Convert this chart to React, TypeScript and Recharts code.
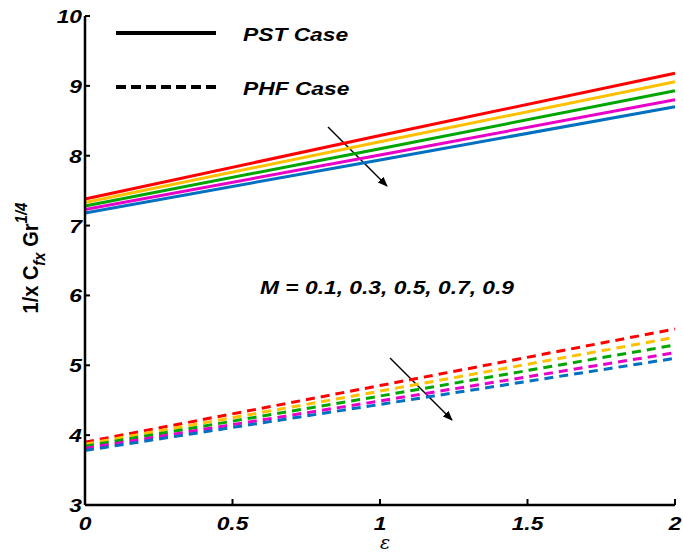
import React from "react"
import { LineChart, Line, XAxis, YAxis, Customized } from "recharts"

const eps = [0, 1, 2]
const pstM01 = [7.38, 8.29, 9.18]
const pstM03 = [7.33, 8.2, 9.06]
const pstM05 = [7.28, 8.1, 8.93]
const pstM07 = [7.23, 8.01, 8.8]
const pstM09 = [7.18, 7.94, 8.7]
const phfM01 = [3.9, 4.71, 5.52]
const phfM03 = [3.87, 4.63, 5.4]
const phfM05 = [3.84, 4.56, 5.29]
const phfM07 = [3.81, 4.49, 5.18]
const phfM09 = [3.78, 4.44, 5.1]
const xTicks = [0, 0.5, 1, 1.5, 2]
const yTicks = [3, 4, 5, 6, 7, 8, 9, 10]
const colors = ["#ff0000", "#ffc000", "#00a600", "#e800c8", "#0070c0"]

const data = eps.map((e, i) => ({
  eps: e,
  p1: pstM01[i], p3: pstM03[i], p5: pstM05[i], p7: pstM07[i], p9: pstM09[i],
  h1: phfM01[i], h3: phfM03[i], h5: phfM05[i], h7: phfM07[i], h9: phfM09[i],
}))

const FONT = "'Liberation Sans', Arial, sans-serif"

// the reference text looks stretched sideways, so scale it a bit
const Txt = ({ x, y, anchor = "start", size = 19, children }: any) => (
  <text
    transform={`translate(${x},${y}) scale(1.2,1)`}
    textAnchor={anchor}
    fontFamily={FONT}
    fontSize={size}
    fontWeight="bold"
    fontStyle="italic"
    fill="#000"
  >
    {children}
  </text>
)

const XTick = (props: any) => {
  const { x, y, payload } = props
  return (
    <g>
      <line x1={x} y1={y} x2={x} y2={y - 6} stroke="#000" strokeWidth={2} />
      <Txt x={x} y={y + 25} anchor="middle">{payload.value}</Txt>
    </g>
  )
}

const YTick = (props: any) => {
  const { x, y, payload } = props
  return (
    <g>
      <line x1={x} y1={y} x2={x + 5} y2={y} stroke="#000" strokeWidth={2} />
      <Txt x={x - 3} y={y + 7} anchor="end">{payload.value}</Txt>
    </g>
  )
}

const Extras = () => (
  <g>
    <defs>
      <marker id="arrowHead" markerWidth="10" markerHeight="10" refX="9" refY="5" orient="auto" markerUnits="userSpaceOnUse">
        <path d="M0,1 L10,5 L0,9 Z" fill="#000" />
      </marker>
    </defs>
    {/* legend */}
    <line x1={116} y1={33} x2={216} y2={33} stroke="#000" strokeWidth={4} />
    <Txt x={243} y={41}>PST Case</Txt>
    <line x1={116} y1={87} x2={216} y2={87} stroke="#000" strokeWidth={4} strokeDasharray="10 5" />
    <Txt x={243} y={95}>PHF Case</Txt>
    {/* arrows */}
    <line x1={328} y1={127} x2={387} y2={186} stroke="#000" strokeWidth={1.5} markerEnd="url(#arrowHead)" />
    <line x1={390} y1={358} x2={452} y2={420} stroke="#000" strokeWidth={1.5} markerEnd="url(#arrowHead)" />
    <Txt x={387} y={294} anchor="middle">M = 0.1, 0.3, 0.5, 0.7, 0.9</Txt>
    {/* axis titles */}
    <text
      transform="translate(38,258) scale(1.1,1) rotate(-90)"
      textAnchor="middle"
      fontFamily={FONT}
      fontWeight="bold"
      fontSize={20}
      fill="#000"
    >
      1/x C<tspan dy={6} fontSize={15} fontStyle="italic">fx</tspan>
      <tspan dy={-6}> Gr</tspan>
      <tspan dy={-10} fontSize={15} fontStyle="italic">1/4</tspan>
    </text>
    <text x={385} y={549} fontSize={19} fontStyle="italic" fontFamily="'DejaVu Serif', serif" textAnchor="middle" fill="#000">ε</text>
  </g>
)

export default function App() {
  const keys = ["1", "3", "5", "7", "9"]
  return (
    <div style={{ position: "absolute", left: 0, top: 0, width: 683, height: 555, background: "#fff" }}>
      <LineChart width={683} height={555} data={data} margin={{ top: 16, right: 8, bottom: 49, left: 0 }}>
        <XAxis
          dataKey="eps"
          type="number"
          domain={[0, 2]}
          ticks={xTicks}
          height={1}
          tickSize={0}
          tickMargin={0}
          tick={<XTick />}
          axisLine={{ stroke: "#000", strokeWidth: 2.5 }}
          tickLine={false}
          interval={0}
        />
        <YAxis
          type="number"
          domain={[3, 10]}
          ticks={yTicks}
          width={85}
          tickSize={0}
          tickMargin={0}
          tick={<YTick />}
          axisLine={{ stroke: "#000", strokeWidth: 2.5 }}
          tickLine={false}
          interval={0}
        />
        {keys.map((k, i) => (
          <Line key={"p" + k} dataKey={"p" + k} stroke={colors[i]} strokeWidth={3} dot={false} isAnimationActive={false} type="linear" />
        ))}
        {keys.map((k, i) => (
          <Line key={"h" + k} dataKey={"h" + k} stroke={colors[i]} strokeWidth={3} strokeDasharray="9 6" dot={false} isAnimationActive={false} type="linear" />
        ))}
        <Customized component={Extras} />
      </LineChart>
    </div>
  )
}
